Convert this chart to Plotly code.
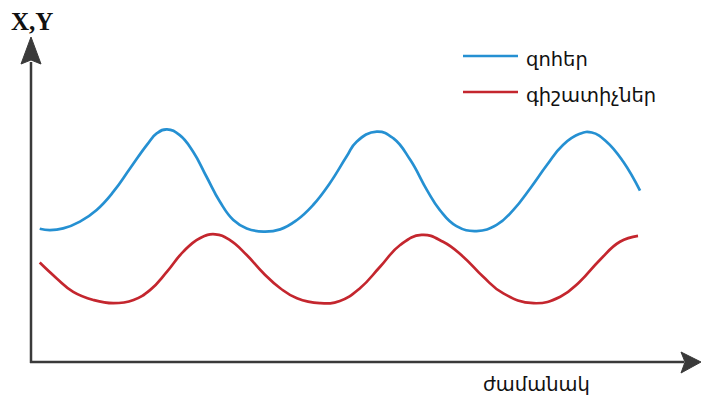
import plotly.graph_objects as go

# time (0-100 along the axis) and population values (0-100 along the axis)
prey_t = [1.3, 2.8, 4.8, 7.3, 9.8, 12.3, 14.8, 17.3, 18.8, 20.3, 22.2, 24.2, 26.2, 28.2,
          30.2, 32.2, 34.7, 37.2, 39.7, 42.1, 44.6, 47.1, 48.6, 51.6, 54.1, 56.6, 59.1,
          61.0, 63.5, 66.5, 69.5, 72.0, 74.5, 77.0, 79.4, 81.9, 83.7, 85.9, 88.4, 90.9]
prey_v = [41.0, 40.6, 41.1, 43.2, 46.8, 52.4, 59.6, 66.8, 70.4, 71.6, 69.8, 64.7, 57.0, 49.3,
          43.7, 41.1, 40.1, 40.8, 43.7, 48.3, 55.0, 63.2, 67.8, 70.9, 68.8, 62.2, 52.9,
          46.8, 41.8, 40.3, 42.2, 46.8, 53.4, 60.6, 66.8, 70.2, 70.6, 67.8, 61.6, 52.7]

pred_t = [1.3, 3.8, 6.3, 9.3, 12.3, 15.3, 17.8, 20.3, 22.7, 25.2, 27.5, 29.7, 32.2, 34.7,
          37.2, 39.7, 43.1, 46.1, 49.1, 52.1, 55.1, 58.3, 61.5, 64.5, 67.5, 70.5, 75.0,
          79.0, 81.9, 84.9, 87.9, 90.6]
pred_v = [30.6, 25.8, 21.6, 19.1, 18.1, 19.1, 22.2, 27.8, 33.9, 38.1, 39.3, 37.5, 32.9, 27.3,
          22.7, 19.6, 18.1, 18.8, 22.7, 29.3, 36.0, 39.1, 37.0, 32.4, 26.2, 21.1, 18.1,
          20.1, 24.7, 31.4, 37.0, 38.8]

series_names = ["զոհեր", "գիշատիչներ"]
series_colors = ["#2590d2", "#c4262e"]
x_label = "ժամանակ"
y_label = "X,Y"

W, H = 701, 396
L, R, T, B = 31, 0, 37, 34
pw, ph = W - L - R, H - T - B


def px(x):
    return (x - L) / pw


def py(y):
    return (H - B - y) / ph


fig = go.Figure()
fig.add_trace(go.Scatter(x=prey_t, y=prey_v, mode="lines", name=series_names[0],
                         line=dict(color=series_colors[0], width=2.7, shape="spline", smoothing=1.3),
                         showlegend=False))
fig.add_trace(go.Scatter(x=pred_t, y=pred_v, mode="lines", name=series_names[1],
                         line=dict(color=series_colors[1], width=2.7, shape="spline", smoothing=1.3),
                         showlegend=False))

axc = "#3a3a3a"
shapes = [
    # y axis
    dict(type="line", xref="paper", yref="paper", x0=px(31), x1=px(31), y0=py(363), y1=py(62),
         line=dict(color=axc, width=2.5)),
    # x axis
    dict(type="line", xref="paper", yref="paper", x0=px(30), x1=px(684), y0=py(362), y1=py(362),
         line=dict(color=axc, width=2.5)),
    # y arrowhead
    dict(type="path", xref="paper", yref="paper",
         path=f"M {px(21)},{py(64)} L {px(31)},{py(37)} L {px(41)},{py(64)} L {px(31)},{py(60)} Z",
         fillcolor=axc, line=dict(color=axc, width=1)),
    # x arrowhead
    dict(type="path", xref="paper", yref="paper",
         path=f"M {px(681)},{py(352)} L {px(701)},{py(362)} L {px(681)},{py(373)} L {px(685)},{py(362)} Z",
         fillcolor=axc, line=dict(color=axc, width=1)),
    # legend lines
    dict(type="line", xref="paper", yref="paper", x0=px(463), x1=px(518), y0=py(56), y1=py(56),
         line=dict(color=series_colors[0], width=2.7)),
    dict(type="line", xref="paper", yref="paper", x0=px(463), x1=px(518), y0=py(92), y1=py(92),
         line=dict(color=series_colors[1], width=2.7)),
]

tfont = dict(size=19.5, color="#111", family="Liberation Sans, DejaVu Sans")
annotations = [
    dict(text=series_names[0], xref="paper", yref="paper", x=px(524), y=py(59), xanchor="left",
         yanchor="middle", showarrow=False, font=tfont),
    dict(text=series_names[1], xref="paper", yref="paper", x=px(524), y=py(95), xanchor="left",
         yanchor="middle", showarrow=False, font=tfont),
    dict(text=x_label, xref="paper", yref="paper", x=px(536), y=py(384), xanchor="center",
         yanchor="middle", showarrow=False, font=tfont),
    dict(text=f"<b>{y_label}</b>", xref="paper", yref="paper", x=px(32), y=py(21), xanchor="center",
         yanchor="middle", showarrow=False, font=dict(size=25, color="#111", family="Liberation Serif, DejaVu Serif")),
]

fig.update_layout(
    width=W, height=H,
    margin=dict(l=L, r=R, t=T, b=B),
    paper_bgcolor="white", plot_bgcolor="white",
    xaxis=dict(range=[0, 100], visible=False, fixedrange=True),
    yaxis=dict(range=[0, 100], visible=False, fixedrange=True),
    shapes=shapes, annotations=annotations,
)

fig.write_html("out.html", config={"displayModeBar": False},
               post_script="document.body.style.margin='0';document.body.style.overflow='hidden';")
